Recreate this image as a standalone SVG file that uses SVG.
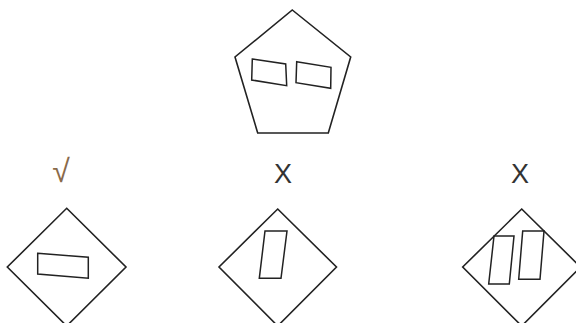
<svg xmlns="http://www.w3.org/2000/svg" width="576" height="323" viewBox="0 0 576 323">
<style>
.s{fill:none;stroke:#222;stroke-width:1.6;stroke-linejoin:miter}
.r{fill:none;stroke:#222;stroke-width:1.5}
.t{font-family:"Liberation Sans",Arial,sans-serif;font-size:27px;fill:#333;text-anchor:middle}
.c{font-family:"Liberation Sans",Arial,sans-serif;font-size:32px;fill:#8a6a4a;text-anchor:middle}
</style>
<rect width="576" height="323" fill="#fff"/>
<g id="pentagon">
<polygon class="s" points="292.3,10 350.7,57 328.3,133 257.7,133 235,57"/>
<polygon class="r" points="252.3,59 285.7,64 286.7,85.7 251.7,80"/>
<polygon class="r" points="296.7,61.7 331,67.3 330.7,88.3 296,82.7"/>
</g>
<g id="optionA">
<text class="c" x="61" y="182">√</text>
<polygon class="s" points="66.7,208.3 126,267 66.7,326 7.3,267"/>
<polygon class="r" points="37.7,253.3 88.3,257.3 88.3,278.3 37.7,274"/>
</g>
<g id="optionB">
<text class="t" x="283" y="183">X</text>
<polygon class="s" points="277.7,209 336.5,267 277.7,326 219,267"/>
<polygon class="r" points="265,231 287,231 281,278.3 259.3,278.3"/>
</g>
<g id="optionC">
<text class="t" x="520" y="183">X</text>
<polygon class="s" points="521.7,209 580.5,267 521.7,326 462.7,267"/>
<polygon class="r" points="494,236 514,236 509.3,284 488.7,284"/>
<polygon class="r" points="522.7,231 544,231 540,279.3 518.7,279.3"/>
</g>
<g id="connectors"/>
</svg>
